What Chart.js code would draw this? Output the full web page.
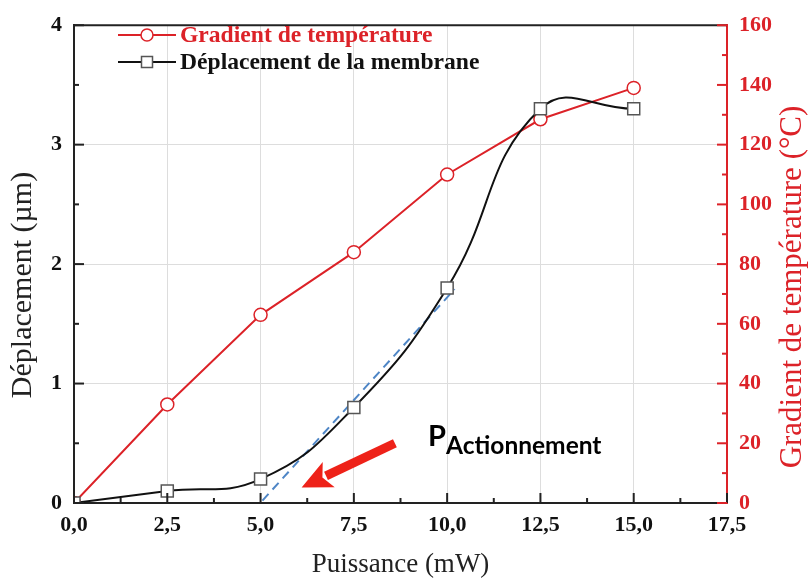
<!DOCTYPE html>
<html><head><meta charset="utf-8">
<style>html,body{margin:0;padding:0;background:#fff}#wrap{width:808px;height:582px;position:relative}</style>
<script src="https://cdn.jsdelivr.net/npm/chart.js@4.4.1/dist/chart.umd.min.js"></script>
</head><body><div id="wrap"><canvas id="c" width="808" height="582" style="width:808px;height:582px"></canvas></div>
<script>
// ---- data ----
const power = [0, 2.5, 5.0, 7.5, 10.0, 12.5, 15.0];
const temperature = [0, 33, 63, 84, 110, 128.5, 139];
const displacement = [0, 0.1, 0.2, 0.8, 1.8, 3.3, 3.3];
const tangentX = [5.05, 10.2];
const tangentY = [0.02, 1.79];
const xTicks = [0, 2.5, 5, 7.5, 10, 12.5, 15, 17.5];
const xMinorTicks = [1.25, 3.75, 6.25, 8.75, 11.25, 13.75, 16.25];
const leftTicks = [0, 1, 2, 3, 4];
const leftMinorTicks = [0.5, 1.5, 2.5, 3.5];
const rightTicks = [0, 20, 40, 60, 80, 100, 120, 140, 160];
const rightMinorTicks = [10, 30, 50, 70, 90, 110, 130, 150];
const seriesLabels = ['Gradient de température', 'Déplacement de la membrane'];
const xTitle = 'Puissance (mW)';
const yTitle = 'Déplacement (µm)';
const y2Title = 'Gradient de température (°C)';
const arrowFrom = [8.6, 0.50];
const arrowTo = [6.1, 0.13];
const annotPos = [9.49, 0.48];
const annotMain = 'P';
const annotSub = 'Actionnement';

const RED = '#dc2228';
const BLACK = '#111111';
const SERIF = '"Liberation Serif", "Times New Roman", serif';

const pts = (xs, ys) => xs.map((x, i) => ({x, y: ys[i]}));

const decor = {
  id: 'decor',
  afterDraw(chart) {
    const ctx = chart.ctx;
    const a = chart.chartArea;
    const sx = chart.scales.x, sy = chart.scales.y, sy2 = chart.scales.y2;
    ctx.save();
    // top frame line
    ctx.strokeStyle = '#222'; ctx.lineWidth = 2;
    ctx.beginPath(); ctx.moveTo(a.left, a.top); ctx.lineTo(a.right, a.top); ctx.stroke();
    // inward ticks
    const tick = (x1, y1, x2, y2, col) => { ctx.strokeStyle = col; ctx.lineWidth = 2; ctx.beginPath(); ctx.moveTo(x1, y1); ctx.lineTo(x2, y2); ctx.stroke(); };
    xTicks.forEach(v => { const p = sx.getPixelForValue(v); tick(p, a.bottom, p, a.bottom - 10, '#222'); });
    xMinorTicks.forEach(v => { const p = sx.getPixelForValue(v); tick(p, a.bottom, p, a.bottom - 5, '#222'); });
    leftTicks.forEach(v => { const p = sy.getPixelForValue(v); tick(a.left, p, a.left + 10, p, '#222'); });
    leftMinorTicks.forEach(v => { const p = sy.getPixelForValue(v); tick(a.left, p, a.left + 5, p, '#222'); });
    rightTicks.forEach(v => { const p = sy2.getPixelForValue(v); tick(a.right, p, a.right - 10, p, RED); });
    rightMinorTicks.forEach(v => { const p = sy2.getPixelForValue(v); tick(a.right, p, a.right - 5, p, RED); });

    // axis titles
    ctx.fillStyle = '#222';
    ctx.font = '30px ' + SERIF;
    ctx.textAlign = 'center'; ctx.textBaseline = 'middle';
    ctx.save(); ctx.translate(23, 285); ctx.rotate(-Math.PI / 2); ctx.fillText(yTitle, 0, 0); ctx.restore();
    ctx.fillStyle = RED; ctx.font = '31px ' + SERIF;
    ctx.save(); ctx.translate(793, 287); ctx.rotate(-Math.PI / 2); ctx.fillText(y2Title, 0, 0); ctx.restore();
    ctx.fillStyle = '#222'; ctx.font = '27px ' + SERIF;
    ctx.fillText(xTitle, (a.left + a.right) / 2, 565);

    // legend
    const legendItems = [
      {ds: chart.data.datasets[1], y: 35, text: seriesLabels[0], shape: 'circle'},
      {ds: chart.data.datasets[0], y: 62, text: seriesLabels[1], shape: 'rect'}
    ];
    legendItems.forEach(it => {
      ctx.strokeStyle = it.ds.borderColor; ctx.lineWidth = 2;
      ctx.beginPath(); ctx.moveTo(118, it.y); ctx.lineTo(176, it.y); ctx.stroke();
      ctx.fillStyle = '#fff'; ctx.strokeStyle = it.ds.pointBorderColor; ctx.lineWidth = 1.5;
      ctx.beginPath();
      if (it.shape === 'circle') ctx.arc(147, it.y, 6, 0, Math.PI * 2); else ctx.rect(141.5, it.y - 5.5, 11, 11);
      ctx.fill(); ctx.stroke();
      ctx.fillStyle = it.ds.borderColor === RED ? RED : BLACK;
      ctx.font = 'bold 23.6px ' + SERIF; ctx.textAlign = 'left'; ctx.textBaseline = 'middle';
      ctx.fillText(it.text, 180, it.y + 1);
    });

    // arrow
    const x1 = sx.getPixelForValue(arrowFrom[0]), y1 = sy.getPixelForValue(arrowFrom[1]);
    const x2 = sx.getPixelForValue(arrowTo[0]), y2 = sy.getPixelForValue(arrowTo[1]);
    const ang = Math.atan2(y2 - y1, x2 - x1);
    const headLen = 30, headW = 14;
    const bx = x2 - headLen * Math.cos(ang), by = y2 - headLen * Math.sin(ang);
    ctx.strokeStyle = '#ee2219'; ctx.fillStyle = '#ee2219'; ctx.lineWidth = 9; ctx.lineCap = 'butt';
    ctx.beginPath(); ctx.moveTo(x1, y1); ctx.lineTo(bx + 3 * Math.cos(ang), by + 3 * Math.sin(ang)); ctx.stroke();
    ctx.beginPath();
    ctx.moveTo(x2, y2);
    ctx.lineTo(bx + headW * Math.sin(ang), by - headW * Math.cos(ang));
    ctx.lineTo(bx + 7 * Math.cos(ang), by + 7 * Math.sin(ang));
    ctx.lineTo(bx - headW * Math.sin(ang), by + headW * Math.cos(ang));
    ctx.closePath(); ctx.fill();

    // annotation
    const tx = sx.getPixelForValue(annotPos[0]), ty = sy.getPixelForValue(annotPos[1]);
    ctx.fillStyle = '#000'; ctx.textAlign = 'left'; ctx.textBaseline = 'alphabetic';
    ctx.font = 'bold 29px Lato, "Open Sans", sans-serif';
    ctx.fillText(annotMain, tx, ty);
    const w = ctx.measureText(annotMain).width;
    ctx.font = 'bold 24.5px Lato, "Open Sans", sans-serif';
    ctx.fillText(annotSub, tx + w, ty + 8);
    ctx.restore();
  }
};

new Chart(document.getElementById('c'), {
  type: 'line',
  data: {
    datasets: [
      { label: seriesLabels[1], data: pts(power, displacement), yAxisID: 'y', order: 0,
        borderColor: BLACK, borderWidth: 2, tension: 0.45,
        pointStyle: 'rect', pointRadius: 8.5, pointBackgroundColor: '#fff', pointBorderColor: '#555', pointBorderWidth: 1.5 },
      { label: seriesLabels[0], data: pts(power, temperature), yAxisID: 'y2', order: 1,
        borderColor: RED, borderWidth: 2, tension: 0,
        pointStyle: 'circle', pointRadius: 6.5, pointBackgroundColor: '#fff', pointBorderColor: RED, pointBorderWidth: 1.5 },
      { label: 'tangente', data: pts(tangentX, tangentY), yAxisID: 'y', order: 2,
        borderColor: '#4f86c6', borderDash: [9, 6], borderWidth: 2, pointRadius: 0, tension: 0 }
    ]
  },
  options: {
    responsive: false,
    animation: false,
    devicePixelRatio: 1,
    layout: { padding: { top: 19, left: 0, right: 0, bottom: 0 } },
    plugins: { legend: { display: false }, tooltip: { enabled: false } },
    scales: {
      x: {
        type: 'linear', min: 0, max: 17.5,
        afterBuildTicks: s => { s.ticks = xTicks.map(v => ({value: v})); },
        afterFit: s => { s.height = 79; },
        ticks: { callback: v => v.toFixed(1).replace('.', ','), font: { family: SERIF, weight: 'bold', size: 22 }, color: BLACK, padding: 9, maxRotation: 0, autoSkip: false },
        grid: { color: '#dddddd', drawTicks: false },
        border: { color: '#222', width: 2 }
      },
      y: {
        position: 'left', min: 0, max: 4,
        afterBuildTicks: s => { s.ticks = leftTicks.map(v => ({value: v})); },
        afterFit: s => { s.width = 74; },
        ticks: { font: { family: SERIF, weight: 'bold', size: 22 }, color: BLACK, padding: 12 },
        grid: { color: '#dddddd', drawTicks: false },
        border: { color: '#222', width: 2 }
      },
      y2: {
        position: 'right', min: 0, max: 160,
        afterBuildTicks: s => { s.ticks = rightTicks.map(v => ({value: v})); },
        afterFit: s => { s.width = 81; },
        ticks: { font: { family: SERIF, weight: 'bold', size: 22 }, color: RED, padding: 12 },
        grid: { drawOnChartArea: false, drawTicks: false },
        border: { color: RED, width: 2 }
      }
    }
  },
  plugins: [decor]
});
</script>
</body></html>
